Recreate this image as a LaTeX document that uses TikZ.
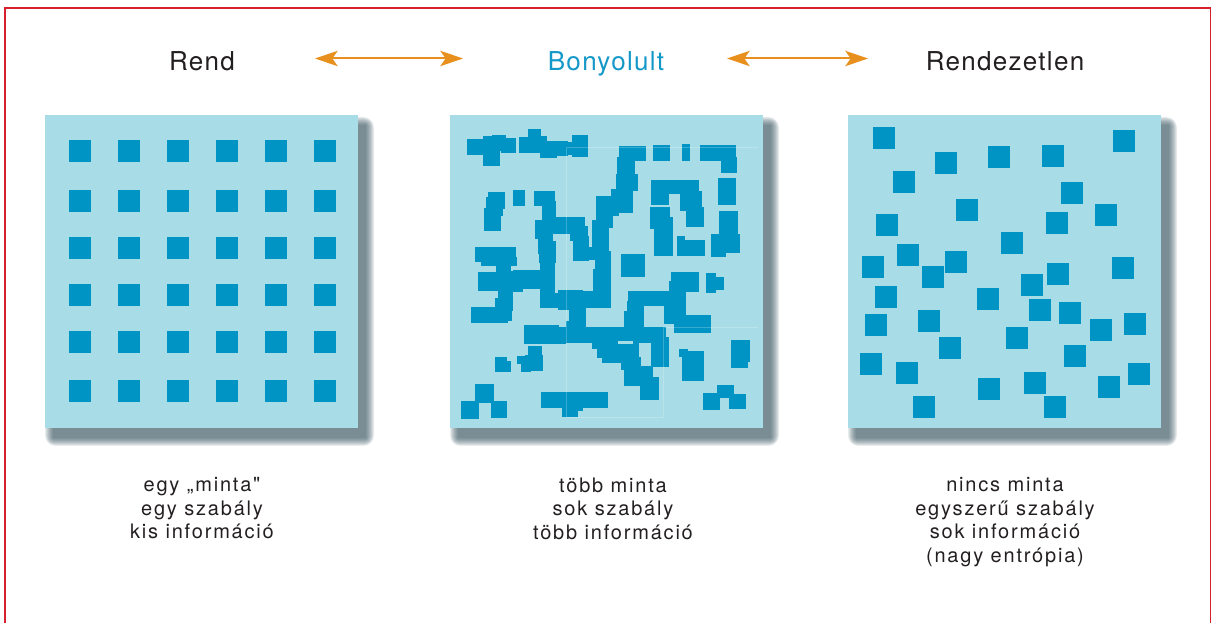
\documentclass[tikz,border=0pt]{standalone}
\usepackage{fontspec}
\setmainfont{TeX Gyre Heros}
\newfontfamily\headfont[LetterSpace=5]{TeX Gyre Heros}
\newfontfamily\capfont[LetterSpace=9]{TeX Gyre Heros}
\usetikzlibrary{arrows.meta}
\definecolor{panelblue}{RGB}{168,220,230}
\definecolor{cellblue}{RGB}{0,148,196}
\definecolor{headblue}{RGB}{20,152,200}
\definecolor{arroworange}{RGB}{232,144,30}
\definecolor{framered}{RGB}{214,32,44}
\definecolor{inkgray}{RGB}{35,31,32}
\definecolor{shadowgray}{RGB}{50,80,92}
\tikzset{every picture/.style={line width=0.75pt}}
\tikzset{
  headtext/.style={anchor=base,inner sep=0.75pt,text=inkgray,font=\headfont\fontsize{19.5}{23}\selectfont},
  captext/.style={anchor=north,inner sep=0.75pt,align=center,text=inkgray,font=\capfont\fontsize{15}{17.6}\selectfont},
  twoway/.style={draw=arroworange,line width=1.5pt,{Stealth[length=17pt,width=11.5pt,inset=4pt]}-{Stealth[length=17pt,width=11.5pt,inset=4pt]}},
  sq/.style={fill=cellblue}
}

\begin{document}
\begin{tikzpicture}[x=0.75pt,y=0.75pt,yscale=-1,xscale=1]
\useasboundingbox (0,0) rectangle (1211,623);
% frame
\draw [framered, line width=1.5pt] (4.5,623) -- (4.5,8.5) -- (1210.5,8.5) -- (1210.5,623);

% panels with soft shadow
\foreach \px in {45,450,848} {
  \foreach \d in {0,...,8}
    \fill [shadowgray, opacity=0.11, rounded corners=\d pt] (\px+8-\d,125-\d) rectangle (\px+321+\d,438+\d);
  \fill [panelblue] (\px,115) rectangle (\px+313,428);
}

% Rend: regular grid
\foreach \y in {140,190,237,284,331,380}
  \foreach \x in {69,118,167,216,265,314}
    \fill [sq] (\x,\y) rectangle +(22,22);

% Bonyolult: clustered blocks
\foreach \xa/\ya/\xb/\yb in {
  468/140/483/154, 484/137/499/165, 493/136/505/150, 502/139/515/152,
  520/138/535/152, 529/130/540/141, 531/137/546/152, 541/142/556/157,
  552/142/567/155, 565/143/573/154, 573/136/587/156,
  489/193/504/208, 487/198/502/215, 485/209/500/230, 514/191/524/205,
  535/192/554/205, 543/202/555/220, 536/221/551/238, 551/218/584/233,
  571/227/587/240, 574/237/588/260, 539/235/552/253, 540/242/555/262,
  583/248/600/259, 593/221/608/252, 597/197/610/225, 596/252/610/275,
  476/248/515/261, 482/258/516/265, 497/264/510/275, 541/264/554/275,
  479/273/510/290, 509/272/522/291, 514/271/553/288, 541/270/554/307,
  499/289/512/299, 496/299/512/310, 472/308/507/322, 503/309/511/320,
  541/294/570/307, 559/291/582/309, 570/303/585/330, 577/292/607/307,
  594/270/609/307, 525/326/558/333, 525/333/540/343, 542/335/565/343,
  557/328/665/342, 567/322/585/330, 593/338/610/348, 598/345/612/357,
  603/355/611/362,
  529/347/541/357, 526/356/542/370, 518/357/530/363, 522/358/530/371,
  496/358/506/371, 500/362/510/371,
  476/385/493/402, 462/402/478/418, 492/402/506/417,
  542/393/607/407, 563/402/582/410, 563/407/577/416,
  620/147/645/160, 618/158/634/177, 617/175/637/190, 612/190/632/212,
  605/197/618/215, 605/215/612/227,
  654/146/669/160, 683/145/689/160, 701/146/735/160, 722/158/736/172,
  719/179/735/204, 652/181/698/193, 652/181/668/204, 681/192/701/210,
  687/208/703/226, 651/208/669/228, 655/218/672/255, 678/237/684/255,
  678/241/704/255, 720/212/737/235, 712/235/739/252, 712/240/725/256,
  622/255/644/276,
  672/273/698/291, 670/282/685/310, 707/274/715/292, 707/278/723/289,
  629/292/685/305, 628/302/643/328, 625/312/643/330, 665/305/685/323,
  675/316/710/332, 605/270/610/307, 605/342/638/362, 622/358/640/369,
  625/367/652/385, 641/378/658/399, 652/338/668/366,
  680/350/687/356, 683/352/703/380, 732/341/749/361, 732/353/747/367,
  718/386/733/397, 704/394/719/409, 730/395/745/408}
  \fill [sq] (\xa-0.8,\ya-0.8) rectangle (\xb+0.8,\yb+0.8);
\fill [panelblue] (618,341.5) rectangle (633,344.5);
\draw [white, opacity=0.22, line width=0.5pt] (566.5,417) -- (566.5,147.5) -- (758,147.5);
\draw [white, opacity=0.22, line width=0.5pt] (566.5,417) -- (663,417) -- (663,327) -- (758,327);

% Rendezetlen: scattered
\foreach \x/\y in {
  873/127, 1113/130, 935/152, 988/146, 1042/145, 893/171, 1061/182,
  956/199, 876/214, 1095/204, 1046/212, 1001/232, 897/244, 862/256,
  945/251, 922/266, 1112/257, 1047/263, 1021/274, 875/286, 977/288,
  1029/299, 1059/302, 865/314, 918/310, 1124/313, 1090/319, 1006/327,
  939/337, 1064/345, 860/353, 896/362, 1128/363, 978/378, 1024/372,
  1098/376, 913/396, 1044/396}
  \fill [sq] (\x,\y) rectangle +(22,22);

% headings and arrows
\draw (202,71) node [headtext] (rend) {Rend};
\draw (606,71) node [headtext, text=headblue] (bony) {Bonyolult};
\draw (1005,71) node [headtext] (rendez) {Rendezetlen};
\coordinate (la) at (315,58.5);
\coordinate (lb) at (463,58.5);
\coordinate (ra) at (727,58.5);
\coordinate (rb) at (868,58.5);
\draw [twoway] (la) -- (lb);
\draw [twoway] (ra) -- (rb);

% captions
\draw (202,476) node [captext] (caprend) {egy „minta"\\egy szabály\\kis információ};
\draw (613,476) node [captext] (capbony) {több minta\\sok szabály\\több információ};
\draw (1005,476) node [captext] (caprendez) {nincs minta\\egyszerű szabály\\sok információ\\(nagy entrópia)};
\end{tikzpicture}
\end{document}
